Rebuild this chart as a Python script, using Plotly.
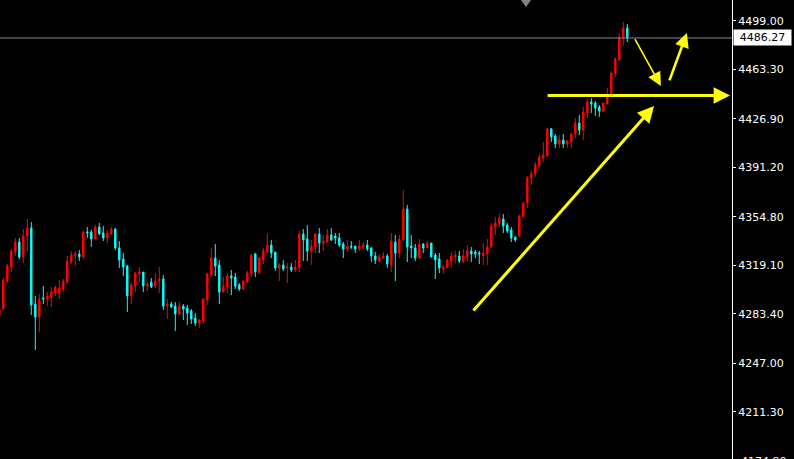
import plotly.graph_objects as go

open_ = [4281.9,4287.0,4307.6,4317.9,4328.9,4336.3,4325.3,4340.7,4346.6,4290.7,
4281.1,4295.1,4294.4,4295.8,4298.8,4298.8,4301.7,4306.9,4321.6,4326.0,
4327.5,4325.3,4343.6,4343.6,4338.5,4347.3,4342.9,4339.2,4342.2,4345.8,
4331.9,4323.8,4318.6,4296.6,4303.9,4312.8,4314.2,4303.9,4306.9,4303.9,
4307.6,4309.1,4289.2,4290.7,4289.2,4283.3,4289.2,4287.8,4285.6,4280.4,
4276.7,4278.2,4293.6,4312.0,4324.5,4319.4,4299.5,4303.2,4311.3,4310.6,
4304.7,4301.7,4306.9,4312.8,4327.5,4313.5,4323.0,4328.9,4334.1,4328.9,
4317.2,4319.4,4317.2,4317.9,4315.7,4317.2,4342.2,4338.5,4329.7,4332.6,
4342.2,4335.5,4336.3,4341.4,4340.7,4339.2,4334.8,4331.1,4333.3,4333.3,
4331.1,4332.6,4334.1,4331.9,4326.0,4322.3,4324.5,4326.0,4319.4,4336.3,
4328.2,4337.8,4360.5,4333.3,4331.9,4324.5,4334.8,4331.9,4335.5,4326.7,
4323.8,4316.4,4317.2,4322.3,4325.3,4326.0,4321.6,4325.3,4329.7,4328.9,
4328.2,4326.0,4327.5,4332.6,4347.3,4349.5,4353.2,4348.8,4345.1,4340.0,
4340.7,4354.7,4364.9,4383.3,4386.3,4392.2,4398.0,4399.5,4419.4,4414.2,
4408.3,4411.3,4408.3,4409.8,4415.7,4423.8,4418.6,4431.1,4439.2,4438.5,
4435.5,4432.6,4437.7,4445.1,4459.8,4470.1,4487.0,4493.6]

high = [4289.2,4309.8,4320.1,4331.1,4339.2,4339.2,4345.8,4353.2,4351.0,4296.6,
4298.0,4303.9,4299.5,4303.2,4303.9,4308.3,4309.1,4326.0,4329.7,4329.7,
4330.4,4344.4,4347.3,4345.1,4348.8,4350.3,4348.0,4345.1,4347.3,4346.6,
4337.0,4328.2,4319.4,4306.9,4314.2,4317.9,4314.2,4306.9,4309.8,4313.5,
4317.9,4312.0,4294.4,4292.2,4292.2,4292.2,4290.7,4290.0,4287.0,4284.0,
4279.7,4295.1,4313.5,4331.9,4334.8,4323.0,4310.6,4313.5,4315.7,4313.5,
4306.1,4308.3,4315.0,4327.5,4328.2,4325.3,4331.9,4342.2,4337.8,4328.9,
4320.8,4323.0,4320.8,4320.8,4323.0,4344.4,4345.8,4348.8,4337.8,4342.9,
4346.6,4341.4,4345.8,4346.6,4342.9,4342.9,4336.3,4337.8,4337.0,4333.3,
4337.8,4336.3,4337.8,4332.6,4328.9,4327.5,4328.9,4327.5,4342.9,4341.4,
4341.4,4374.5,4363.5,4341.4,4334.8,4338.5,4335.5,4337.0,4335.5,4328.2,
4328.2,4319.4,4323.8,4328.9,4329.7,4329.7,4331.1,4334.1,4332.6,4330.4,
4329.7,4335.5,4338.5,4350.3,4354.7,4356.9,4356.9,4350.3,4347.3,4340.0,
4356.1,4365.7,4384.8,4388.5,4395.1,4401.0,4409.8,4420.1,4420.1,4415.7,
4414.9,4415.7,4411.3,4416.4,4427.4,4429.7,4435.5,4441.4,4442.1,4439.9,
4437.0,4438.5,4449.5,4462.0,4472.3,4489.9,4498.0,4496.6]

low = [4280.4,4286.3,4306.1,4314.2,4326.0,4323.8,4320.8,4329.7,4282.6,4256.9,
4270.1,4290.7,4289.2,4288.5,4296.6,4294.4,4299.5,4305.4,4320.1,4318.6,
4322.3,4323.8,4339.2,4332.6,4338.5,4341.4,4337.0,4335.5,4341.4,4330.4,
4317.2,4311.3,4284.8,4290.7,4299.5,4306.9,4299.5,4300.3,4302.5,4302.5,
4298.8,4286.3,4279.7,4287.8,4270.8,4282.6,4278.9,4275.3,4276.0,4274.5,
4273.1,4276.0,4290.0,4310.6,4311.3,4290.7,4299.5,4298.8,4297.3,4301.7,
4300.3,4301.0,4306.1,4310.6,4310.6,4313.5,4320.1,4328.2,4324.5,4315.0,
4307.6,4315.0,4306.1,4314.2,4314.2,4314.2,4322.3,4322.3,4319.4,4328.2,
4328.2,4329.7,4335.5,4337.0,4334.8,4332.6,4324.5,4328.9,4331.1,4328.2,
4329.7,4331.1,4329.7,4321.6,4320.1,4321.6,4323.8,4317.2,4314.2,4307.6,
4324.5,4337.0,4321.6,4324.5,4322.3,4323.8,4328.2,4331.9,4325.3,4309.1,
4313.5,4312.8,4317.2,4317.2,4320.8,4320.8,4320.8,4322.3,4321.6,4324.5,
4320.1,4319.4,4319.4,4331.9,4341.4,4346.6,4342.9,4342.9,4336.3,4336.3,
4340.0,4354.7,4361.3,4378.2,4384.1,4390.7,4395.1,4398.8,4409.8,4405.4,
4405.4,4405.4,4405.4,4405.4,4412.7,4414.9,4411.3,4427.4,4431.1,4428.9,
4428.2,4431.9,4437.7,4444.4,4457.6,4469.4,4480.4,4483.3]

close = [4287.0,4308.3,4318.6,4329.7,4336.3,4325.3,4340.7,4346.6,4290.0,4281.1,
4294.4,4294.4,4296.6,4299.5,4303.2,4302.5,4307.6,4322.3,4326.7,4327.5,
4325.3,4343.6,4342.9,4338.5,4347.3,4342.2,4339.2,4342.9,4345.8,4331.9,
4323.0,4317.9,4296.6,4304.7,4313.5,4314.2,4303.9,4305.4,4303.2,4307.6,
4309.1,4289.2,4290.7,4288.5,4283.3,4289.2,4287.0,4284.0,4279.7,4276.7,
4278.9,4294.4,4312.8,4324.5,4318.6,4299.5,4303.9,4311.3,4309.8,4303.9,
4301.7,4307.6,4313.5,4326.7,4314.2,4324.5,4329.7,4334.1,4328.2,4317.2,
4319.4,4316.4,4317.9,4315.7,4317.9,4342.2,4337.8,4329.7,4333.3,4342.2,
4335.5,4337.0,4341.4,4337.8,4339.2,4334.1,4331.1,4333.3,4332.6,4331.1,
4333.3,4334.1,4331.1,4326.0,4323.0,4325.3,4326.0,4320.1,4337.0,4328.2,
4338.5,4360.5,4332.6,4331.9,4324.5,4334.8,4331.9,4335.5,4325.3,4323.0,
4317.2,4317.9,4323.0,4326.0,4326.7,4322.3,4326.0,4329.7,4327.5,4327.5,
4327.5,4328.2,4332.6,4348.0,4350.3,4353.9,4348.0,4344.4,4339.2,4337.8,
4355.4,4364.9,4383.3,4386.3,4392.9,4398.8,4400.2,4419.4,4413.5,4408.3,
4411.3,4408.3,4410.5,4415.7,4423.8,4418.6,4431.9,4439.2,4437.7,4434.8,
4432.6,4438.5,4443.6,4460.5,4470.8,4487.0,4493.6,4486.27]

bar_index = list(range(len(close)))

tick_vals = [4499.00, 4463.30, 4426.90, 4391.20, 4354.80, 4319.10, 4283.40, 4247.00, 4211.30]
tick_text = ["4499.00", "4463.30", "4426.90", "4391.20", "4354.80", "4319.10", "4283.40", "4247.00", "4211.30"]
cut_tick_value = 4174.90
cut_tick = "4174.90"
last_price = 4486.27

# arrows: (tail_x, tail_y, head_x, head_y, width)
arrow_tail_x = [118.2, 136.7, 158.7, 167.4]
arrow_tail_y = [4284.8, 4444.0, 4486.5, 4454.0]
arrow_head_x = [163.7, 182.7, 165.4, 171.9]
arrow_head_y = [4436.3, 4444.0, 4451.0, 4489.9]
arrow_width = [3.0, 3.0, 1.6, 2.6]
arrow_size = [1.1, 1.1, 1.7, 1.1]

y_range = [4176.74, 4514.2]
x_range = [0.175, 183.175]

fig = go.Figure()
fig.add_trace(go.Candlestick(
    x=bar_index, open=open_, high=high, low=low, close=close,
    increasing=dict(line=dict(color="#FF0000", width=1), fillcolor="#FF0000"),
    decreasing=dict(line=dict(color="#00FFFF", width=1), fillcolor="#00FFFF"),
    whiskerwidth=0, hoverinfo="skip", showlegend=False,
))

annotations = []
for tx, ty, hx, hy, w, s in zip(arrow_tail_x, arrow_tail_y, arrow_head_x, arrow_head_y,
                                arrow_width, arrow_size):
    annotations.append(dict(
        x=hx, y=hy, ax=tx, ay=ty, xref="x", yref="y", axref="x", ayref="y",
        text="", showarrow=True, arrowhead=2, arrowsize=s, arrowwidth=w,
        arrowcolor="#FFFF00", standoff=0, startstandoff=0,
    ))

annotations.append(dict(
    x=1.0014, xref="paper", xanchor="left", y=last_price, yref="y", yanchor="middle",
    text=f"{last_price:.2f}", showarrow=False, bgcolor="#FFFFFF",
    font=dict(family="DejaVu Sans", size=11, color="#000000"),
    width=55, height=13, borderpad=1, align="center",
))
annotations.append(dict(
    x=1.0096, xref="paper", xanchor="left",
    y=(cut_tick_value - y_range[0]) / (y_range[1] - y_range[0]),
    yref="paper", yanchor="middle", text=cut_tick, showarrow=False,
    font=dict(family="DejaVu Sans", size=11, color="#FFFFFF"),
))

shapes = [
    dict(type="line", xref="paper", x0=0, x1=1, yref="y", y0=last_price, y1=last_price,
         line=dict(color="#8C8C8C", width=1)),
    dict(type="path", xref="paper", yref="paper",
         path="M 0.7117 1.0 L 0.7254 1.0 L 0.7186 0.9847 Z",
         fillcolor="#7D858F", line=dict(width=0)),
]

fig.update_layout(
    width=794, height=459,
    margin=dict(l=0, r=62, t=0, b=0),
    paper_bgcolor="#000000", plot_bgcolor="#000000",
    showlegend=False, boxgap=0.5,
    annotations=annotations, shapes=shapes,
    xaxis=dict(range=x_range, visible=False, rangeslider=dict(visible=False), fixedrange=True),
    yaxis=dict(range=y_range, side="right", showgrid=False, zeroline=False,
               showline=True, linecolor="#FFFFFF", linewidth=1,
               ticks="outside", ticklen=3, tickcolor="#FFFFFF", tickwidth=1,
               tickvals=tick_vals, ticktext=tick_text,
               tickfont=dict(family="DejaVu Sans", size=11, color="#FFFFFF"),
               fixedrange=True),
)

fig.write_html(
    "out.html",
    config={"displayModeBar": False},
    post_script="document.body.style.margin='0px';document.body.style.overflow='hidden';document.body.style.background='#000000';",
)
